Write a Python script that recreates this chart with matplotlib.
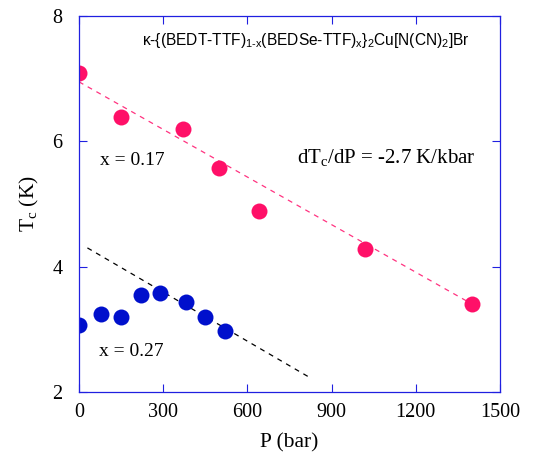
import matplotlib

matplotlib.use("Agg")

import matplotlib.pyplot as plt

# x = 0.17 sample (red)
p_017 = [0, 150, 370, 500, 640, 1020, 1400]
tc_017 = [7.09, 6.39, 6.20, 5.57, 4.89, 4.29, 3.40]
# x = 0.27 sample (blue)
p_027 = [0, 80, 150, 220, 290, 380, 450, 520]
tc_027 = [3.07, 3.24, 3.19, 3.55, 3.58, 3.44, 3.20, 2.97]
# linear guides (end points)
fit_017_p = [0, 1390]
fit_017_tc = [6.95, 3.43]
fit_027_p = [30, 815]
fit_027_tc = [4.30, 2.25]

x_ticks = [0, 300, 600, 900, 1200, 1500]
y_ticks = [2, 4, 6, 8]

sans = "Liberation Sans"
serif = "Liberation Serif"
frame_color = "#2020e0"

plt.rcParams["mathtext.fontset"] = "custom"
plt.rcParams["mathtext.rm"] = sans
plt.rcParams["mathtext.it"] = sans

fig = plt.figure(figsize=(5.5, 4.63), dpi=100)
ax = fig.add_axes([0.1436, 0.1533, 0.7655, 0.8121])

ax.plot(fit_017_p, fit_017_tc, color="#ff3380", lw=0.9, dashes=(4, 4))
ax.plot(fit_027_p, fit_027_tc, color="black", lw=0.9, dashes=(4, 4))
ax.plot(p_017, tc_017, "o", color="#ff1068", ms=11.5, mec="none")
ax.plot(p_027, tc_027, "o", color="#0010cc", ms=11.5, mec="none")

ax.set_xlim(0, 1500)
ax.set_ylim(2, 8)
ax.set_xticks(x_ticks)
ax.set_yticks(y_ticks)
ax.tick_params(direction="in", length=6, width=0.8, color=frame_color,
               top=True, right=True, labelsize=14.5)
ax.tick_params(axis="x", pad=8)
ax.tick_params(axis="y", pad=12)
for lab in ax.get_xticklabels() + ax.get_yticklabels():
    lab.set_family(serif)
for sp in ax.spines.values():
    sp.set_color(frame_color)
    sp.set_linewidth(0.9)

ax.set_xlabel("P (bar)", fontsize=15.5, family=serif, labelpad=8)
ax.set_ylabel("T$_\\mathregular{c}$ (K)", fontsize=15.5, family=serif, labelpad=8)

ax.text(0.54, 0.935,
        r"$\kappa$-{(BEDT-TTF)$_{\mathregular{1\text{-}x}}$(BEDSe-TTF)$_{\mathregular{x}}$}"
        r"$_{\mathregular{2}}$Cu[N(CN)$_{\mathregular{2}}$]Br",
        transform=ax.transAxes, ha="center", va="center", fontsize=11.2,
        family=sans)
ax.text(75, 5.70, "x = 0.17", fontsize=14, family=serif, va="center")
ax.text(70, 2.64, "x = 0.27", fontsize=14, family=serif, va="center")
ax.text(775, 5.73, "dT$_\\mathregular{c}$/dP = -2.7 K/kbar", fontsize=15,
        family=serif, va="center")

fig.savefig("out.png", dpi=100)
